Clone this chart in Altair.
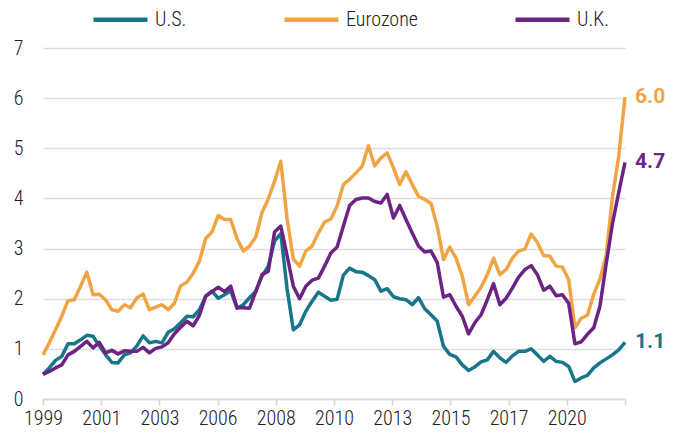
import altair as alt
import pandas as pd

series_names = ["U.S.", "Eurozone", "U.K."]
colors = ["#17768a", "#f0a545", "#6c2384"]

us = [0.49, 0.62, 0.77, 0.85, 1.10, 1.10, 1.18, 1.27, 1.25, 1.06,
      0.88, 0.73, 0.72, 0.88, 0.92, 1.06, 1.26, 1.12, 1.15, 1.12,
      1.33, 1.40, 1.52, 1.65, 1.64, 1.78, 2.05, 2.15, 2.01, 2.08,
      2.16, 1.81, 1.88, 2.02, 2.15, 2.45, 2.65, 3.15, 3.30, 2.20,
      1.38, 1.48, 1.75, 1.95, 2.13, 2.05, 1.97, 1.99, 2.47, 2.61,
      2.54, 2.53, 2.46, 2.38, 2.15, 2.20, 2.04, 2.00, 1.98, 1.88,
      2.02, 1.80, 1.68, 1.55, 1.05, 0.89, 0.84, 0.68, 0.57, 0.64,
      0.74, 0.78, 0.95, 0.82, 0.73, 0.86, 0.95, 0.95, 1.00, 0.88,
      0.75, 0.85, 0.75, 0.73, 0.65, 0.35, 0.42, 0.47, 0.62, 0.72,
      0.80, 0.88, 0.98, 1.13]

eurozone = [0.88, 1.12, 1.38, 1.65, 1.96, 1.98, 2.25, 2.53, 2.08, 2.09,
            1.98, 1.78, 1.75, 1.88, 1.82, 2.02, 2.09, 1.78, 1.83, 1.88,
            1.78, 1.91, 2.26, 2.33, 2.51, 2.75, 3.20, 3.33, 3.66, 3.58,
            3.58, 3.20, 2.95, 3.05, 3.23, 3.72, 3.99, 4.34, 4.74, 3.60,
            2.79, 2.65, 2.95, 3.05, 3.31, 3.53, 3.59, 3.85, 4.28, 4.38,
            4.51, 4.64, 5.05, 4.65, 4.81, 4.91, 4.61, 4.28, 4.53, 4.28,
            4.04, 3.98, 3.90, 3.44, 2.78, 3.03, 2.81, 2.45, 1.88, 2.05,
            2.23, 2.48, 2.81, 2.48, 2.58, 2.81, 2.95, 2.99, 3.29, 3.12,
            2.86, 2.85, 2.65, 2.63, 2.38, 1.42, 1.61, 1.67, 2.09, 2.39,
            2.87, 4.04, 4.84, 6.02]

uk = [0.49, 0.55, 0.62, 0.68, 0.88, 0.95, 1.05, 1.15, 1.02, 1.13,
      0.92, 0.97, 0.90, 0.96, 0.95, 0.95, 1.03, 0.92, 1.01, 1.04,
      1.12, 1.30, 1.43, 1.55, 1.46, 1.67, 2.05, 2.14, 2.23, 2.14,
      2.25, 1.82, 1.82, 1.81, 2.14, 2.48, 2.55, 3.33, 3.45, 2.86,
      2.25, 2.00, 2.25, 2.37, 2.41, 2.65, 2.91, 3.03, 3.45, 3.86,
      3.98, 4.01, 4.01, 3.94, 3.91, 4.08, 3.61, 3.86, 3.58, 3.31,
      3.05, 2.93, 2.95, 2.72, 2.03, 2.08, 1.85, 1.65, 1.30, 1.52,
      1.68, 1.98, 2.30, 1.88, 2.01, 2.21, 2.43, 2.58, 2.66, 2.48,
      2.17, 2.25, 2.06, 2.08, 1.91, 1.10, 1.14, 1.29, 1.42, 1.85,
      2.70, 3.50, 4.12, 4.72]

end_labels = ["1.1", "6.0", "4.7"]

start_year = 1999
n = len(us)
# quarter-end positions as decimal years (1999Q1 ... 2022Q2)
t = [start_year + (i + 1) / 4 for i in range(n)]

rows = []
for name, vals in zip(series_names, [us, eurozone, uk]):
    for ti, v in zip(t, vals):
        rows.append({"t": ti, "value": v, "series": name})
df = pd.DataFrame(rows)

last = pd.DataFrame({
    "t": [t[-1]] * 3,
    "value": [us[-1], eurozone[-1], uk[-1]],
    "series": series_names,
    "label": end_labels,
})

x0, x1 = t[0], t[-1]
tick_vals = [x0 + k * (x1 - x0) / 10 for k in range(11)]

FONT = "Roboto Condensed, DejaVu Sans Condensed, Roboto"

color_scale = alt.Scale(domain=series_names, range=colors)

x_enc = alt.X("t:Q", scale=alt.Scale(domain=[x0, x1], nice=False, zero=False),
              axis=alt.Axis(values=tick_vals, labelExpr="datum.value > 2022.2 ? '' : floor(datum.value)",
                            title=None, grid=False, domain=True, domainColor="#d6d6d6",
                            domainWidth=1.5, ticks=True, tickColor="#d6d6d6", tickWidth=1.5,
                            tickSize=6, labelPadding=3, labelFontSize=20, labelFont=FONT,
                            labelFontWeight=300, labelColor="#222222", labelFlush=False))
y_enc = alt.Y("value:Q", scale=alt.Scale(domain=[0, 7], nice=False),
              axis=alt.Axis(values=[0, 1, 2, 3, 4, 5, 6, 7], title=None, grid=True,
                            gridColor="#dedede", gridWidth=1.5, domain=False, ticks=False,
                            labelPadding=20, labelFontSize=20, labelFont=FONT,
                            labelFontWeight=300, labelColor="#222222"))

lines = alt.Chart(df).mark_line(strokeWidth=3.5, strokeJoin="round").encode(
    x=x_enc,
    y=y_enc,
    color=alt.Color("series:N", scale=color_scale, sort=series_names,
                    legend=alt.Legend(orient="none", legendX=48, legendY=-58,
                                      direction="horizontal", title=None,
                                      symbolType="stroke", symbolSize=2916,
                                      symbolStrokeWidth=4.5, labelFontSize=20,
                                      labelFont=FONT, labelFontWeight=300,
                                      labelColor="#222222",
                                      labelOffset=5, columnPadding=88, padding=0)),
    detail="series:N",
)

labels = alt.Chart(last).mark_text(align="left", baseline="middle", dx=10,
                                   fontSize=21, fontWeight="bold",
                                   font="Roboto").encode(
    x="t:Q",
    y="value:Q",
    text="label:N",
    color=alt.Color("series:N", scale=color_scale, legend=None),
)

chart = alt.layer(lines, labels).properties(
    width=582,
    height=351,
    autosize=alt.AutoSizeParams(type="none"),
    padding={"left": 35, "top": 40, "right": 40, "bottom": 31},
).configure_view(stroke=None)

chart.save("out.html", embed_options={"renderer": "svg", "actions": False})
